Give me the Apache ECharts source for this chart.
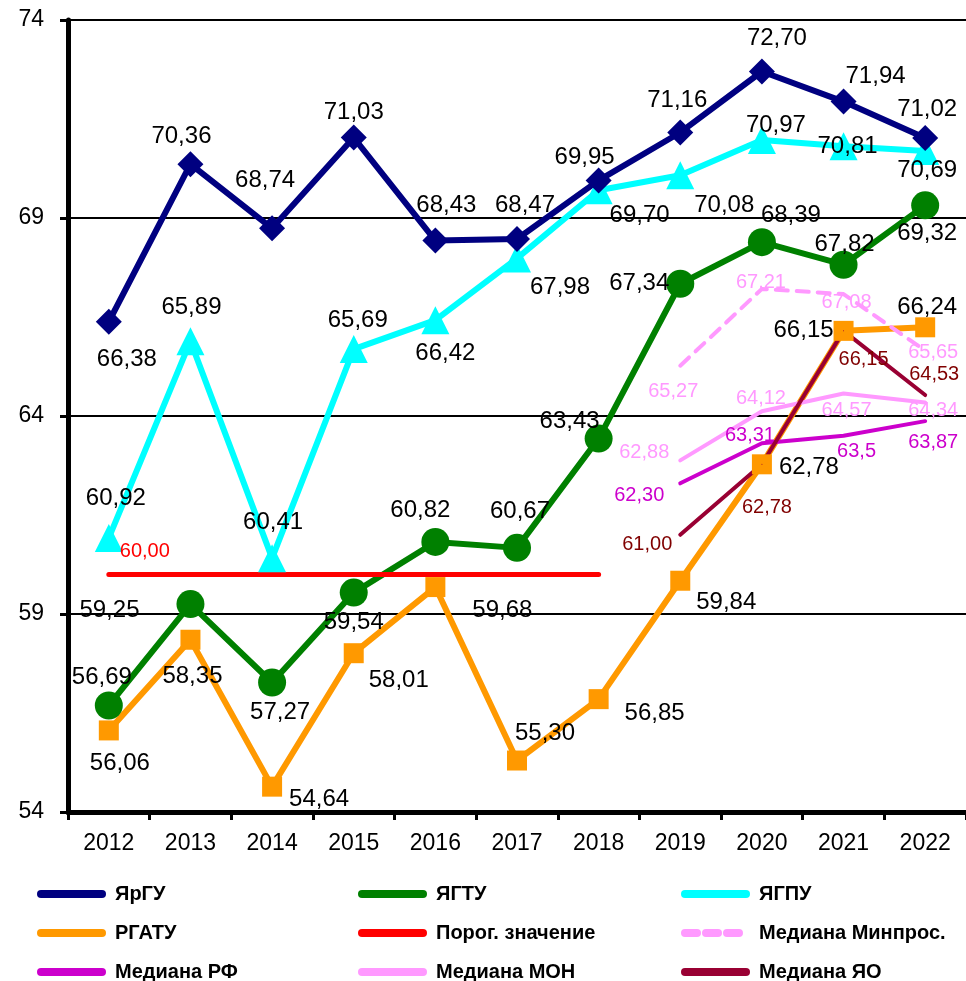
<!DOCTYPE html>
<html>
<head>
<meta charset="utf-8">
<script src="https://cdn.jsdelivr.net/npm/echarts@6/dist/echarts.min.js"></script>
<style>
  html, body { margin: 0; padding: 0; background: #fff; }
  #chart { width: 966px; height: 981px; }
</style>
</head>
<body>
<div id="chart"></div>
<script>
  // годы и значения по вузам
  var years = ['2012', '2013', '2014', '2015', '2016', '2017', '2018', '2019', '2020', '2021', '2022'];
  var yrgu = [66.38, 70.36, 68.74, 71.03, 68.43, 68.47, 69.95, 71.16, 72.70, 71.94, 71.02];
  var ygtu = [56.69, 59.25, 57.27, 59.54, 60.82, 60.67, 63.43, 67.34, 68.39, 67.82, 69.32];
  var ygpu = [60.92, 65.89, 60.41, 65.69, 66.42, 67.98, 69.70, 70.08, 70.97, 70.81, 70.69];
  var rgatu = [56.06, 58.35, 54.64, 58.01, 59.68, 55.30, 56.85, 59.84, 62.78, 66.15, 66.24];
  var porog = [60, 60, 60, 60, 60, 60, 60, null, null, null, null];
  var medMinpros = [null, null, null, null, null, null, null, 65.27, 67.21, 67.08, 65.65];
  var medRF = [null, null, null, null, null, null, null, 62.30, 63.31, 63.5, 63.87];
  var medMON = [null, null, null, null, null, null, null, 62.88, 64.12, 64.57, 64.34];
  var medYO = [null, null, null, null, null, null, null, 61.00, 62.78, 66.15, 64.53];
  var yTicks = { min: 54, max: 74, step: 5 };

  // смещения подписей (dx, dy) относительно точки
  var yrguOff = [[18, 38], [-9, -28], [-7, -48], [0, -25], [11, -35], [8, -34], [-14, -23], [-3, -32], [15, -33], [32, -25], [2, -29]];
  var ygtuOff = [[-7, -28], [-81, 6], [8, 30], [0, 30], [-15, -32], [3, -36], [-29, -17], [-41, 0], [29, -27], [1, -20], [2, 28]];
  var ygpuOff = [[7, -40], [1, -34], [1, -36], [4, -29], [10, 33], [43, 29], [41, 25], [44, 30], [14, -15], [4, 0], [2, 19]];
  var rgatuOff = [[11, 33], [2, 37], [47, 13], [45, 27], [67, 23], [28, -27], [56, 14], [46, 22], [47, 3], [-40, 0], [2, -20]];
  var porogOff = [[36, -23], null, null, null, null, null, null, null, null, null, null];
  var minprosOff = [null, null, null, null, null, null, null, [-7, 26], [-1, -6], [3, 8], [8, 2]];
  var rfOff = [null, null, null, null, null, null, null, [-41, 12], [-12, -8], [13, 16], [8, 21]];
  var monOff = [null, null, null, null, null, null, null, [-36, -8], [-1, -13], [3, 17], [8, 8]];
  var yoOff = [null, null, null, null, null, null, null, [-33, 10], [5, 43], [20, 29], [9, -21]];

  var FONT = "'Liberation Sans', Arial, sans-serif";

  function fmt(v) {
    if (v === 63.5) return '63,5';
    return v.toFixed(2).replace('.', ',');
  }

  function buildData(values, offs) {
    return values.map(function (v, i) {
      if (v == null) return '-';
      var o = offs[i];
      return {
        value: v,
        label: o ? { show: true, offset: o } : { show: false }
      };
    });
  }

  function mkSeries(name, values, offs, color, opts) {
    return {
      name: name,
      type: 'line',
      data: buildData(values, offs),
      symbol: opts.symbol || 'circle',
      symbolSize: opts.symbolSize || 1,
      showAllSymbol: true,
      lineStyle: { color: color, width: opts.width || 6, type: opts.dash || 'solid', cap: 'round' },
      itemStyle: { color: color },
      label: {
        position: 'inside',
        formatter: function (p) { return fmt(p.value); },
        fontFamily: FONT,
        fontSize: opts.fontSize || 24,
        color: opts.labelColor || '#000'
      },
      emphasis: { disabled: true },
      animation: false
    };
  }

  var chart = echarts.init(document.getElementById('chart'));

  var legendText = { fontFamily: FONT, fontWeight: 'bold', fontSize: 20, color: '#000', padding: [0, 0, 0, 8] };
  function mkLegend(left, names) {
    return {
      orient: 'vertical',
      left: left,
      top: 879,
      height: 110,
      itemWidth: 61,
      itemHeight: 10,
      itemGap: 19,
      selectedMode: false,
      textStyle: legendText,
      lineStyle: { width: 8, cap: 'round' },
      data: names
    };
  }

  chart.setOption({
    animation: false,
    grid: { left: 68, top: 20, width: 902, height: 792 },
    legend: [
      mkLegend(32, ['ЯрГУ', 'РГАТУ', 'Медиана РФ']),
      mkLegend(353, ['ЯГТУ', 'Порог. значение', 'Медиана МОН']),
      mkLegend(676, ['ЯГПУ', 'Медиана Минпрос.', 'Медиана ЯО'])
    ],
    xAxis: {
      type: 'category',
      data: years,
      boundaryGap: true,
      axisLine: { lineStyle: { color: '#000', width: 5 } },
      axisTick: { show: true, length: 8, lineStyle: { color: '#000', width: 3 } },
      axisLabel: { fontFamily: FONT, fontSize: 23, color: '#000', margin: 20 },
      splitLine: { show: false }
    },
    yAxis: {
      type: 'value',
      min: yTicks.min,
      max: yTicks.max,
      interval: yTicks.step,
      axisLine: { show: true, lineStyle: { color: '#000', width: 5 } },
      axisTick: { show: true, length: 8, lineStyle: { color: '#000', width: 3 } },
      axisLabel: { fontFamily: FONT, fontSize: 23, color: '#000', margin: 24 },
      splitLine: { show: true, lineStyle: { color: '#000', width: 2 } }
    },
    series: [
      mkSeries('ЯГПУ', ygpu, ygpuOff, '#00ffff', { symbol: 'triangle', symbolSize: 28 }),
      mkSeries('ЯрГУ', yrgu, yrguOff, '#000080', { symbol: 'diamond', symbolSize: 26 }),
      mkSeries('ЯГТУ', ygtu, ygtuOff, '#008000', { symbol: 'circle', symbolSize: 28 }),
      mkSeries('РГАТУ', rgatu, rgatuOff, '#ff9900', { symbol: 'rect', symbolSize: 20 }),
      mkSeries('Порог. значение', porog, porogOff, '#ff0000', { width: 5, fontSize: 20, labelColor: '#ff0000' }),
      mkSeries('Медиана Минпрос.', medMinpros, minprosOff, '#ff99ff', { width: 4, dash: [12, 9], fontSize: 20, labelColor: '#ff99ff' }),
      mkSeries('Медиана РФ', medRF, rfOff, '#cc00cc', { width: 4, fontSize: 20, labelColor: '#cc00cc' }),
      mkSeries('Медиана МОН', medMON, monOff, '#ff99ff', { width: 4, fontSize: 20, labelColor: '#ff99ff' }),
      mkSeries('Медиана ЯО', medYO, yoOff, '#990033', { width: 4, fontSize: 20, labelColor: '#800000' })
    ]
  });
</script>
</body>
</html>
